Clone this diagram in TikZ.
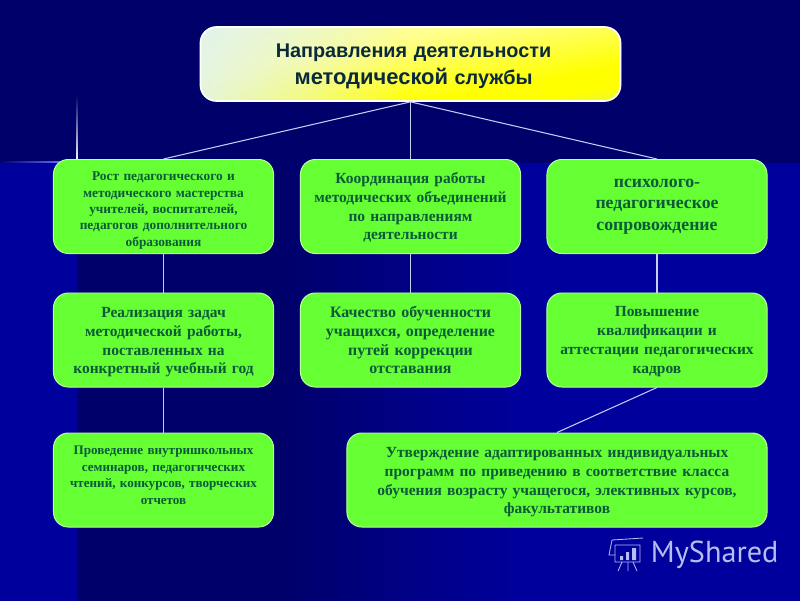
\documentclass[tikz,border=0pt]{standalone}
\usepackage{fontspec}
\setmainfont{Liberation Serif}
\newfontfamily\titlefont{Liberation Sans}
\newfontfamily\markfont{PT Sans}
\usetikzlibrary{fadings}
\definecolor{navybg}{HTML}{00006A}
\definecolor{bandbg}{HTML}{00009C}
\definecolor{boxgreen}{HTML}{66FF33}
\definecolor{boxtext}{HTML}{0B5A3A}
\definecolor{titletext}{HTML}{0A2A3C}
\definecolor{linecol}{HTML}{C8CCF0}
\definecolor{markcol}{HTML}{B4BEF0}
\definecolor{titlecyan}{HTML}{A0E0E0}
\definecolor{titlepale}{HTML}{DFF3F6}
\pgfdeclareverticalshading{titleband}{100bp}{color(0bp)=(titlecyan); color(42.2bp)=(titlecyan); color(46.65bp)=(yellow); color(47.7bp)=(yellow); color(51.5bp)=(yellow!45!white); color(57bp)=(titlepale); color(100bp)=(titlepale)}
\tikzset{
  greenbox/.style={draw=white!55!boxgreen, line width=0.7pt, fill=boxgreen, rounded corners=0.37cm, inner sep=0pt, minimum width=5.5cm, minimum height=2.35cm, text width=5.4cm, align=center, text=boxtext, font=\bfseries},
  linkline/.style={draw=linecol, line width=0.75pt},
  marktext/.style={text=markcol, font=\markfont\fontsize{21.5}{21.5}\selectfont},
}
\begin{document}
\begin{tikzpicture}[x=0.025cm,y=-0.025cm]
  % background
  \useasboundingbox (0,0) rectangle (800,600);
  \fill[navybg] (-3,-3) rectangle (803,603);
  \fill[bandbg] (-3,163) rectangle (77,603);
  \fill[bandbg] (520,163) rectangle (803,603);
  \shade[left color=navybg, right color=bandbg] (280,163) rectangle (520,603);
  % flare
  \shade[bottom color=white, middle color=blue!70!white, top color=navybg] (76.2,95) rectangle (77.8,162);
  \shade[left color=navybg, right color=blue!60!white] (0,161.3) rectangle (60,162.7);

  % title fill
  \begin{scope}
    \clip[rounded corners=0.4cm] (200,27.5) rectangle (621,100.5);
    \shade[shading=titleband, shading angle=10.3] (-20,-366) rectangle (840,494);
    \fill[titlepale, path fading=east] (150,20) rectangle (400,110);
  \end{scope}

  % boxes
  \node[draw=white, line width=1.2pt, rounded corners=0.4cm, minimum width=10.5cm, minimum height=1.85cm, text width=10cm, align=center, text=titletext, font=\titlefont\bfseries\fontsize{14.1}{19}\selectfont] (title) at (410.5,64) {\rule{0pt}{12.6pt}\hspace*{4.3pt}Направления деятельности\\\hspace*{4.3pt}{\fontsize{15.6}{19}\selectfont методической} службы};

  \node[greenbox, font=\bfseries\fontsize{9.5}{11.7}\selectfont] (growth) at (163.5,206.5) {\rule{0pt}{12pt}Рост педагогического и\\методического мастерства\\учителей, воспитателей,\\педагогов дополнительного\\образования};
  \node[greenbox, font=\bfseries\fontsize{11}{13.4}\selectfont] (coord) at (410.5,206.5) {\rule{0pt}{9.3pt}Координация работы\\методических объединений\\по направлениям\\деятельности};
  \node[greenbox, font=\bfseries\fontsize{12.6}{15.2}\selectfont] (support) at (657,206.5) {психолого-\\педагогическое\\сопровождение};

  \node[greenbox, font=\bfseries\fontsize{11}{13.4}\selectfont] (tasks) at (163.5,340) {\rule{0pt}{10.3pt}Реализация задач\\методической работы,\\поставленных на\\конкретный учебный год};
  \node[greenbox, font=\bfseries\fontsize{11.3}{13.4}\selectfont] (quality) at (410.5,340) {Качество обученности\\учащихся, определение\\путей коррекции\\отставания};
  \node[greenbox, font=\bfseries\fontsize{11}{13.4}\selectfont] (training) at (657,340) {\rule{0pt}{9.3pt}Повышение\\квалификации и\\аттестации педагогических\\кадров};

  \node[greenbox, font=\bfseries\fontsize{9.3}{11.7}\selectfont] (seminars) at (163.5,480) {Проведение внутришкольных\\семинаров, педагогических\\чтений, конкурсов, творческих\\отчетов\\[-5pt]\mbox{}};
  \node[greenbox, minimum width=10.5cm, text width=10.3cm, font=\bfseries\fontsize{11}{13.4}\selectfont] (programs) at (557,480) {\rule{0pt}{10.3pt}Утверждение адаптированных индивидуальных\\программ по приведению в соответствие класса\\обучения возрасту учащегося, элективных курсов,\\факультативов};

  % connectors
  \draw[linkline] (title.south) -- (growth.north);
  \draw[linkline] (title.south) -- (coord.north);
  \draw[linkline] (title.south) -- (support.north);
  \draw[linkline] (growth) -- (tasks);
  \draw[linkline] (coord) -- (quality);
  \draw[linkline] (support) -- (training);
  \draw[linkline] (tasks) -- (seminars);
  \draw[linkline] (training.south) -- (programs.north);

  % watermark
  \node[marktext, anchor=west] (mark) at (646,555) {MyShared};
  \draw[markcol, line width=0.6pt] (612,540) -- (643,538) (615,545) -- (640,545) -- (640,562) -- (615,562) -- (615,545);
  \draw[markcol, line width=0.6pt] (612,540) -- (609,555) -- (615,555);
  \fill[markcol] (620,556) rectangle (623,560) (626,552) rectangle (629,560) (632,548) rectangle (636,560);
  \draw[markcol, line width=0.6pt] (622,562) -- (618,571) (628,562) -- (628,571) (633,562) -- (637,571);
\end{tikzpicture}
\end{document}
